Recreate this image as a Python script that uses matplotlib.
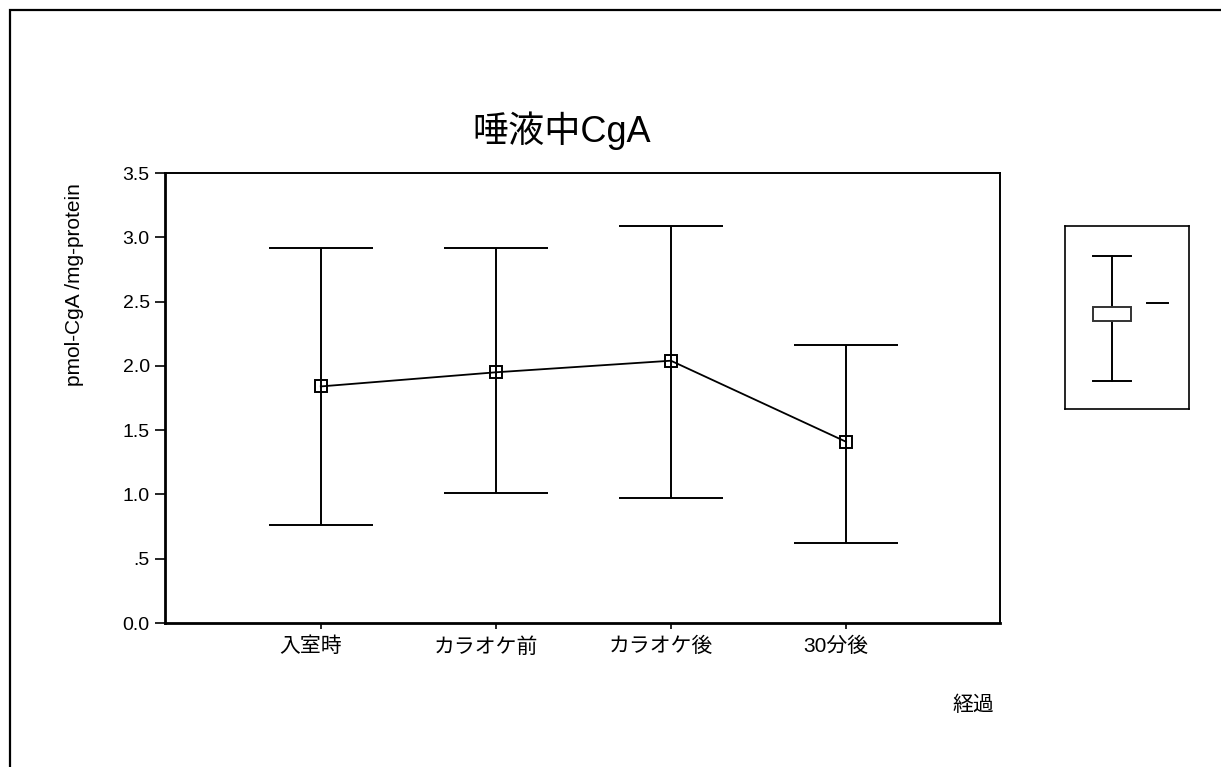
import matplotlib
matplotlib.use("Agg")
from matplotlib import pyplot as plt
from matplotlib.patches import Rectangle
from matplotlib.transforms import ScaledTranslation
import numpy as np

plt.rcParams['font.family'] = ['Liberation Sans', 'Noto Sans CJK JP']

# group means and error bar ends (pmol-CgA / mg-protein)
groups = ["入室時", "カラオケ前", "カラオケ後", "30分後"]
means = [1.84, 1.95, 2.04, 1.41]
upper = [2.92, 2.92, 3.09, 2.16]
lower = [0.76, 1.01, 0.97, 0.62]
yticks = [0.0, 0.5, 1.0, 1.5, 2.0, 2.5, 3.0, 3.5]
ytick_labels = ["0.0", ".5", "1.0", "1.5", "2.0", "2.5", "3.0", "3.5"]

W, H = 1221, 767
fig = plt.figure(figsize=(W / 100, H / 100), dpi=100)

# outer frame, open on the right and bottom
fig.patches.append(Rectangle((10 / W, -0.1), 1.2, 1.1 - 10 / H, transform=fig.transFigure,
                             fill=False, edgecolor="black", linewidth=1.6))

ax = fig.add_axes([165 / W, 1 - 623 / H, (1000 - 165) / W, (623 - 173) / H])
x = np.arange(1, len(groups) + 1)
m = np.array(means)
err = [m - np.array(lower), np.array(upper) - m]
ax.errorbar(x, m, yerr=err, fmt="none", ecolor="black", elinewidth=1.4,
            capsize=37.5, capthick=1.4)
ax.plot(x, m, color="black", linewidth=1.3, marker="s", markersize=8,
        markerfacecolor="none", markeredgecolor="black", markeredgewidth=1.4)

ax.set_xlim(0.11, 4.88)
ax.set_ylim(0, 3.5)
ax.set_xticks(x)
ax.set_xticklabels(groups, fontsize=15)
ax.set_yticks(yticks)
ax.set_yticklabels(ytick_labels, fontsize=14)
ax.tick_params(axis="y", direction="out", length=7, width=1.2, pad=4)
ax.tick_params(axis="x", direction="out", length=4, width=1.2, pad=6)
# category labels sit a little left of their ticks
shift = ScaledTranslation(-10 / 100, 0, fig.dpi_scale_trans)
for lab in ax.get_xticklabels():
    lab.set_transform(lab.get_transform() + shift)
for s in ["left", "bottom"]:
    ax.spines[s].set_linewidth(2.0)
for s in ["top", "right"]:
    ax.spines[s].set_linewidth(1.4)

fig.text(562 / W, 1 - 131 / H, "唾液中CgA", fontsize=26, ha="center", va="center")
fig.text(75 / W, 1 - 285 / H, "pmol-CgA /mg-protein", fontsize=15, rotation=90,
         ha="center", va="center")
fig.text(973 / W, 1 - 705 / H, "経過", fontsize=15, ha="center", va="center")

# legend box with the whisker glyph
lg = fig.add_axes([1065 / W, 1 - 409 / H, (1189 - 1065) / W, (409 - 226) / H])
lg.set_xlim(0, 124)
lg.set_ylim(183, 0)
lg.set_xticks([])
lg.set_yticks([])
for s in lg.spines.values():
    s.set_linewidth(1.2)
lg.plot([47, 47], [30, 155], color="black", linewidth=1.4)
lg.plot([28, 66], [30, 30], color="black", linewidth=1.4)
lg.plot([28, 66], [155, 155], color="black", linewidth=1.4)
lg.add_patch(Rectangle((28, 81), 38, 14, facecolor="white", edgecolor="#333333", linewidth=1.4, zorder=3))
lg.plot([82, 103], [77, 77], color="black", linewidth=1.4)

fig.savefig("out.png", dpi=100)
